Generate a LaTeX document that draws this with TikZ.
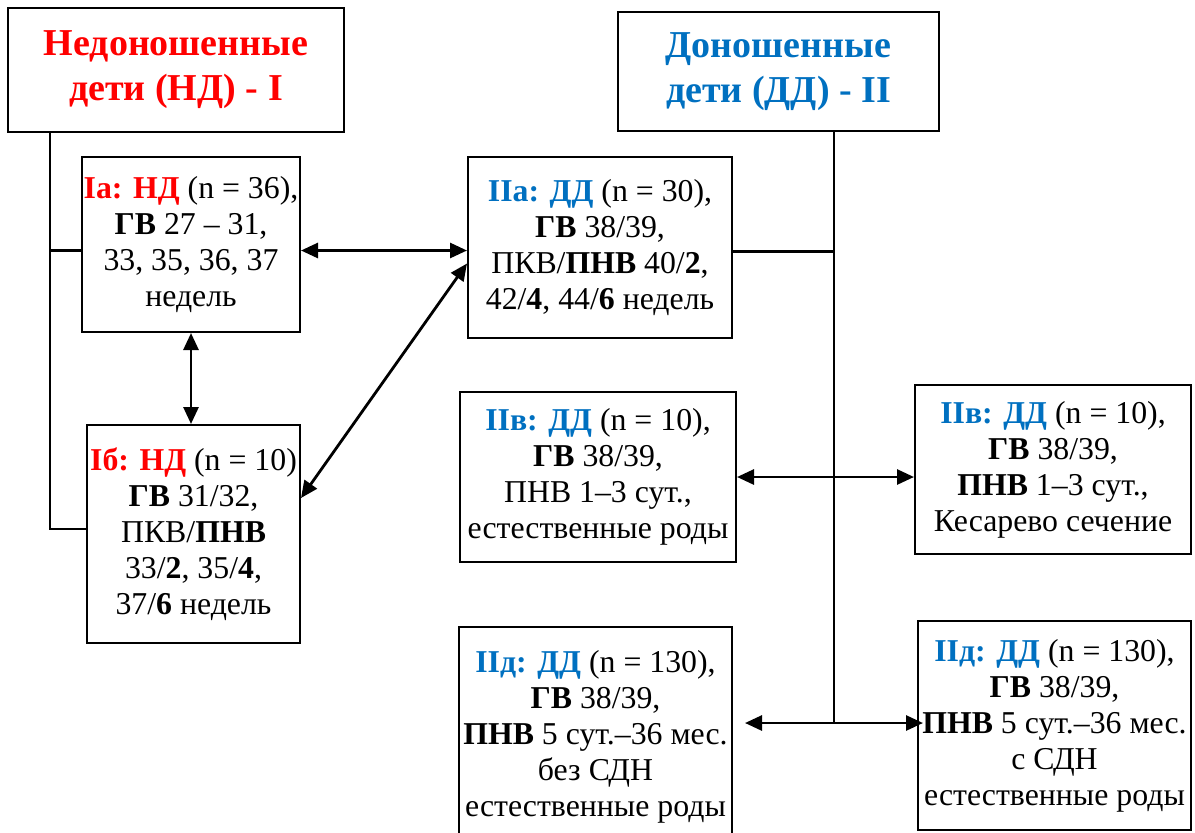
\documentclass[tikz,border=0pt]{standalone}
\usepackage{fontspec}
\setmainfont{Liberation Serif}
\usetikzlibrary{arrows.meta}
\definecolor{ndred}{RGB}{255,0,0}
\definecolor{ddblue}{RGB}{0,112,192}

\begin{document}
\begin{tikzpicture}[x=0.5pt, y=-0.5pt]
        \tikzset{group/.style={draw, line width=1pt, align=center, inner sep=0pt, font=\fontsize{15.9}{18}\selectfont},
                 head/.style={group, font=\fontsize{19}{22.5}\selectfont\bfseries},
                 link/.style={{Triangle[length=8.5pt,width=7.5pt]}-{Triangle[length=8.5pt,width=7.5pt]}, line width=1.4pt},
                 trunk/.style={line width=1.1pt}}
        \useasboundingbox (0,0) rectangle (1195,832);
        \clip (0,0) rectangle (1195,832);
        % main groups
        \node[head, minimum width=168pt, minimum height=62pt] (nd) at (176,70) {\color{ndred}Недоношенные\\\color{ndred}дети (НД) - I};
        \node[head, minimum width=160.5pt, minimum height=59.5pt] (dd) at (778.5,71.5) {\color{ddblue}Доношенные\\\color{ddblue}дети (ДД) - II};
        % subgroups
        \node[group, minimum width=109pt, minimum height=87.5pt] (nda) at (191,244.5)
            {\textcolor{ndred}{\textbf{Iа: НД}} (n = 36),\\\textbf{ГВ} 27 – 31,\\33, 35, 36, 37\\недель};
        \node[group, minimum width=106.5pt, minimum height=109pt] (ndb) at (193.5,534)
            {\textcolor{ndred}{\textbf{Iб: НД}} (n = 10)\\\textbf{ГВ} 31/32,\\ПКВ/\textbf{ПНВ}\\33/\textbf{2}, 35/\textbf{4},\\37/\textbf{6} недель};
        \node[group, minimum width=132pt, minimum height=90.5pt] (dda) at (600,247.5)
            {\textcolor{ddblue}{\textbf{IIа: ДД}} (n = 30),\\\textbf{ГВ} 38/39,\\ПКВ/\textbf{ПНВ} 40/\textbf{2},\\42/\textbf{4}, 44/\textbf{6} недель};
        \node[group, minimum width=138pt, minimum height=85pt] (ddv1) at (598,477)
            {\textcolor{ddblue}{\textbf{IIв: ДД}} (n = 10),\\\textbf{ГВ} 38/39,\\ПНВ 1–3 сут.,\\естественные роды};
        \node[group, minimum width=138pt, minimum height=84.5pt] (ddv2) at (1053,469.5)
            {\textcolor{ddblue}{\textbf{IIв: ДД}} (n = 10),\\\textbf{ГВ} 38/39,\\\textbf{ПНВ} 1–3 сут.,\\Кесарево сечение};
        \node[group, minimum width=136.5pt, minimum height=110pt] (ddd1) at (595.5,737)
            {\textcolor{ddblue}{\textbf{IIд: ДД}} (n = 130),\\\textbf{ГВ} 38/39,\\\textbf{ПНВ} 5 сут.–36 мес.\\без СДН\\естественные роды};
        \node[group, minimum width=136.5pt, minimum height=104.5pt] (ddd2) at (1054.5,725.5)
            {\textcolor{ddblue}{\textbf{IIд: ДД}} (n = 130),\\\textbf{ГВ} 38/39,\\\textbf{ПНВ} 5 сут.–36 мес.\\с СДН\\естественные роды};
        % trunks
        \coordinate (ndtop) at (50,132);
        \coordinate (ddtop) at (834,131);
        \coordinate (ddend) at (834,723);
        \draw[trunk] (ndtop) |- ([yshift=2.5pt]ndb.west);
        \draw[trunk] ([yshift=-3pt]nda.west) -- ([yshift=-3pt]nda.west -| ndtop);
        \draw[trunk] (ddtop) -- (ddend);
        \draw[trunk] ([yshift=-2pt]dda.east) -- ([yshift=-2pt]dda.east -| ddtop);
        % comparisons
        \draw[link] ([yshift=-3pt]nda.east) -- ([yshift=-3pt]nda.east -| dda.west);
        \draw[link] (nda.south) -- (nda.south |- ndb.north);
        \draw[link] ([yshift=18pt]ndb.east) -- ([yshift=-8pt]dda.west);
        \draw[link] (ddv1.east) -- (ddv1.east -| ddv2.west);
        \draw[link] ([xshift=6pt]ddd1.east |- ddend) -- ([xshift=3pt]ddd2.west |- ddend);
    \end{tikzpicture}
\end{document}
